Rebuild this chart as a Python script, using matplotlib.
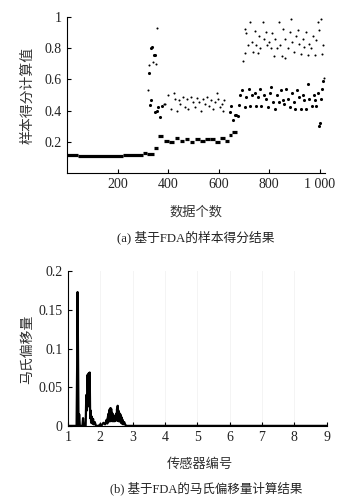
import matplotlib
matplotlib.use("Agg")
import matplotlib.pyplot as plt

plt.rcParams['font.family'] = ['Liberation Serif', 'Noto Sans CJK SC']
plt.rcParams['axes.unicode_minus'] = False

# --- (a) sample scores ---
# dense baseline runs: start, end, level
base_start = [0, 43, 220, 299, 318, 344]
base_end = [43, 220, 299, 318, 344, 358]
base_level = [0.115, 0.108, 0.113, 0.125, 0.118, 0.16]

# short dense dashes around 0.2
dash_start = [360, 382, 405, 425, 446, 466, 486, 506, 526, 546, 566, 586, 606, 626, 640, 652]
dash_end = [380, 402, 424, 444, 464, 484, 504, 524, 544, 564, 584, 604, 624, 642, 654, 674]
dash_level = [0.235, 0.207, 0.20, 0.225, 0.205, 0.22, 0.198, 0.22, 0.205, 0.215, 0.22, 0.198,
              0.225, 0.205, 0.24, 0.262]

# large dots
big_x = [327, 333, 330, 335, 345, 348, 347, 354, 360, 367, 375, 643, 650, 656, 663, 669, 676, 682,
         685, 693, 702, 709, 719, 724, 732, 742, 748, 755, 764, 768, 781, 788, 794, 801, 808, 814,
         822, 830, 840, 847, 853, 860, 867, 875, 882, 890, 896, 903, 910, 917, 926, 932, 939, 945,
         952, 959, 969, 976, 982, 985, 991, 995, 1000, 1004, 1008, 1014, 325]
big_y = [0.436, 0.47, 0.80, 0.81, 0.76, 0.76, 0.39, 0.40, 0.42, 0.36, 0.43, 0.39, 0.43, 0.34, 0.37,
         0.37, 0.365, 0.436, 0.50, 0.53, 0.42, 0.485, 0.54, 0.43, 0.50, 0.51, 0.43, 0.485, 0.54,
         0.43, 0.50, 0.475, 0.42, 0.51, 0.55, 0.455, 0.41, 0.50, 0.455, 0.535, 0.465, 0.44, 0.54,
         0.475, 0.42, 0.515, 0.455, 0.41, 0.53, 0.485, 0.41, 0.50, 0.465, 0.41, 0.57, 0.475, 0.43,
         0.50, 0.465, 0.43, 0.51, 0.30, 0.32, 0.475, 0.54, 0.59, 0.64]

# small dots
small_x = [320, 322, 338, 352, 355, 383, 387, 400, 410, 422, 426, 435, 443, 448, 459, 465, 475,
           480, 489, 498, 505, 515, 522, 531, 538, 546, 554, 561, 571, 577, 584, 593, 598, 604,
           611, 617, 619, 1015,
           696, 704, 709, 715, 702, 724, 731, 735, 742, 748, 755, 761, 765, 774, 778, 788, 792,
           800, 808, 811, 817, 824, 830, 838, 843, 851, 856, 861, 864, 873, 880, 885, 890, 899,
           906, 913, 919, 926, 932, 939, 945, 952, 959, 965, 972, 980, 985, 991, 998, 1005, 1008,
           1011]
small_y = [0.53, 0.69, 0.71, 0.70, 0.93, 0.44, 0.44, 0.50, 0.41, 0.51, 0.475, 0.40, 0.465, 0.44,
           0.485, 0.42, 0.475, 0.41, 0.485, 0.455, 0.42, 0.48, 0.455, 0.40, 0.475, 0.445, 0.485,
           0.43, 0.465, 0.41, 0.455, 0.51, 0.475, 0.42, 0.445, 0.40, 0.465, 0.61,
           0.72, 0.925, 0.90, 0.82, 0.77, 0.97, 0.84, 0.775, 0.91, 0.82, 0.77, 0.88, 0.80, 0.97,
           0.86, 0.905, 0.82, 0.84, 0.80, 0.90, 0.75, 0.86, 0.80, 0.97, 0.82, 0.75, 0.925, 0.86,
           0.74, 0.80, 0.905, 0.99, 0.84, 0.775, 0.88, 0.915, 0.83, 0.765, 0.86, 0.81, 0.905,
           0.755, 0.83, 0.80, 0.88, 0.755, 0.85, 0.97, 0.915, 0.99, 0.765, 0.82]

# --- (b) Mahalanobis offset ---
m_x = [1.0, 1.27, 1.29, 1.30, 1.31, 1.33, 1.35, 1.37, 1.45, 1.47, 1.49, 1.55, 1.57, 1.59, 1.61,
       1.63, 1.645, 1.66, 1.675, 1.69, 1.70, 1.72, 1.74, 1.76, 1.78, 1.80, 1.83, 1.87, 1.95, 2.0,
       2.05, 2.1, 2.15, 2.2, 2.22, 2.24, 2.25, 2.26, 2.27, 2.28, 2.29, 2.30, 2.31, 2.32, 2.33,
       2.34, 2.35, 2.36, 2.37, 2.38, 2.39, 2.40, 2.41, 2.42, 2.43, 2.44, 2.45, 2.46, 2.47, 2.48,
       2.49, 2.50, 2.51, 2.52, 2.53, 2.54, 2.55, 2.56, 2.57, 2.58, 2.59, 2.60, 2.61, 2.62, 2.63,
       2.64, 2.65, 2.66, 2.67, 2.69, 2.71, 2.74, 2.78, 2.8, 9.0]
m_y = [0, 0, 0.09, 0.173, 0.12, 0, 0.015, 0, 0, 0.01, 0, 0, 0.04, 0.02, 0.066, 0.03, 0.068,
       0.025, 0.069, 0.01, 0.02, 0.004, 0.012, 0.003, 0.009, 0.002, 0.005, 0, 0, 0.002, 0.001,
       0.004, 0.002, 0.008, 0.003, 0.012, 0.005, 0.016, 0.006, 0.02, 0.007, 0.022, 0.006, 0.023,
       0.007, 0.022, 0.008, 0.017, 0.006, 0.016, 0.007, 0.014, 0.006, 0.013, 0.007, 0.012, 0.006,
       0.013, 0.007, 0.014, 0.008, 0.016, 0.007, 0.022, 0.008, 0.026, 0.007, 0.02, 0.006, 0.017,
       0.007, 0.016, 0.006, 0.015, 0.005, 0.013, 0.004, 0.011, 0.003, 0.008, 0.002, 0.005, 0.001,
       0, 0]

fig = plt.figure(figsize=(3.59, 5.04), dpi=100)

ax1 = fig.add_axes([0.187, 0.657, 0.718, 0.309])
ax1.hlines(base_level, base_start, base_end, colors='black', lw=2.3)
ax1.hlines(dash_level, dash_start, dash_end, colors='black', lw=2.3)
ax1.scatter(big_x, big_y, s=5, c='black', marker='o', linewidths=0)
ax1.scatter(small_x, small_y, s=2.2, c='black', marker='o', linewidths=0)
ax1.set_xlim(0, 1020)
ax1.set_ylim(0, 1.0)
ax1.set_xticks([200, 400, 600, 800, 1000])
ax1.set_xticklabels(['200', '400', '600', '800', '1 000'])
ax1.set_yticks([0.2, 0.4, 0.6, 0.8, 1.0])
ax1.set_yticklabels(['0.2', '0.4', '0.6', '0.8', '1'])

ax2 = fig.add_axes([0.189, 0.155, 0.721, 0.307])
for gx in range(2, 10):
    ax2.axvline(gx, color='#f2f2f2', lw=0.6, zorder=0)
ax2.plot(m_x, m_y, color='black', lw=1.6)
ax2.set_xlim(1, 9)
ax2.set_ylim(0, 0.2)
ax2.set_xticks(range(1, 10))
ax2.set_yticks([0, 0.05, 0.1, 0.15, 0.2])
ax2.set_yticklabels(['0', '0.05', '0.1', '0.15', '0.2'])

for ax in (ax1, ax2):
    for s in ('top', 'right'):
        ax.spines[s].set_visible(False)
    ax.spines['left'].set_linewidth(0.8)
    ax.spines['bottom'].set_linewidth(0.8)
    ax.tick_params(direction='in', length=3, width=0.8, labelsize=10, pad=4,
                   labelcolor='#222222')

fig.text(0.077, 0.81, '样本得分计算值', rotation=90, ha='center', va='center', fontsize=10,
         color='#333333')
fig.text(0.546, 0.579, '数据个数', ha='center', va='center', fontsize=9.5, color='#333333')
fig.text(0.546, 0.528, '(a) 基于FDA的样本得分结果', ha='center', va='center', fontsize=9.2,
         color='#222222')
fig.text(0.077, 0.306, '马氏偏移量', rotation=90, ha='center', va='center', fontsize=10,
         color='#333333')
fig.text(0.557, 0.077, '传感器编号', ha='center', va='center', fontsize=9.5, color='#333333')
fig.text(0.574, 0.030, '(b) 基于FDA的马氏偏移量计算结果', ha='center', va='center', fontsize=9,
         color='#222222')

fig.savefig('out.png', dpi=100)
